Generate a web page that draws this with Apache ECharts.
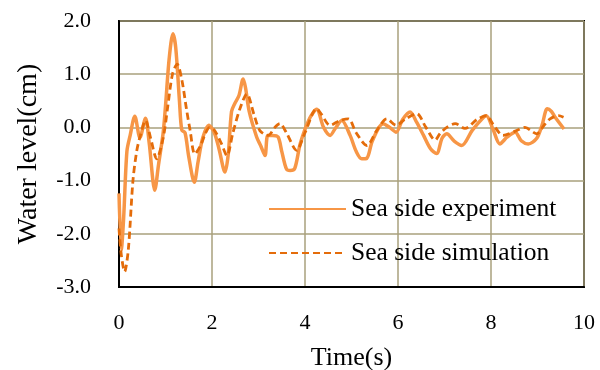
<!DOCTYPE html>
<html>
<head>
<meta charset="utf-8">
<script src="https://cdn.jsdelivr.net/npm/echarts@6/dist/echarts.min.js"></script>
<style>html,body{margin:0;padding:0;background:#fff}#c{width:600px;height:370px}</style>
</head>
<body>
<div id="c"></div>
<script>
var expTime  = [0, 0.05, 0.1, 0.17, 0.24, 0.34, 0.45, 0.57, 0.65, 0.77, 0.85, 0.95, 1.0, 1.08, 1.16, 1.22, 1.3, 1.35, 1.42, 1.5, 1.62, 1.7, 1.8, 1.93, 2.05, 2.15, 2.28, 2.35, 2.42, 2.49, 2.58, 2.67, 2.72, 2.8, 2.96, 3.05, 3.14, 3.2, 3.3, 3.42, 3.5, 3.6, 3.68, 3.78, 3.9, 4.1, 4.25, 4.4, 4.54, 4.65, 4.79, 4.97, 5.1, 5.22, 5.33, 5.45, 5.68, 5.82, 5.96, 6.1, 6.26, 6.4, 6.55, 6.7, 6.83, 6.95, 7.05, 7.2, 7.37, 7.6, 7.84, 7.9, 8.05, 8.19, 8.35, 8.52, 8.65, 8.8, 8.98, 9.1, 9.21, 9.3, 9.38, 9.57];
var expLevel = [-1.24, -2.3, -1.7, -0.45, -0.15, 0.21, -0.19, 0.17, -0.3, -1.18, -0.7, -0.1, 0.4, 1.3, 1.76, 1.5, 0.5, -0.05, -0.1, -0.55, -1.03, -0.65, -0.2, 0.04, -0.1, -0.4, -0.84, -0.5, 0.3, 0.45, 0.6, 0.91, 0.75, 0.3, -0.18, -0.35, -0.53, -0.15, -0.15, -0.18, -0.45, -0.78, -0.81, -0.77, -0.3, 0.17, 0.34, 0.0, -0.15, -0.02, 0.13, -0.15, -0.45, -0.59, -0.58, -0.25, 0.07, 0.0, -0.09, 0.15, 0.29, 0.1, -0.15, -0.4, -0.49, -0.2, -0.12, -0.25, -0.34, -0.05, 0.19, 0.22, -0.05, -0.31, -0.18, -0.09, -0.25, -0.31, -0.21, 0.05, 0.35, 0.3, 0.19, -0.03];
var simTime  = [0, 0.05, 0.12, 0.2, 0.3, 0.38, 0.46, 0.57, 0.68, 0.81, 0.95, 1.05, 1.15, 1.25, 1.35, 1.45, 1.53, 1.63, 1.75, 1.86, 1.95, 2.05, 2.2, 2.32, 2.45, 2.6, 2.75, 2.9, 3.03, 3.21, 3.35, 3.46, 3.6, 3.82, 4.0, 4.25, 4.35, 4.54, 4.75, 4.93, 5.1, 5.33, 5.55, 5.76, 5.96, 6.15, 6.4, 6.6, 6.8, 6.9, 7.05, 7.23, 7.44, 7.7, 7.9, 8.05, 8.26, 8.55, 8.73, 8.98, 9.15, 9.27, 9.45, 9.56];
var simLevel = [-1.9, -2.4, -2.71, -2.3, -1.0, -0.45, -0.15, 0.13, -0.2, -0.59, -0.2, 0.4, 1.0, 1.19, 0.9, 0.35, -0.06, -0.5, -0.35, -0.11, 0.0, -0.05, -0.3, -0.53, -0.1, 0.35, 0.63, 0.25, -0.06, -0.15, 0.0, 0.07, -0.1, -0.43, -0.1, 0.35, 0.25, 0.04, 0.13, 0.16, -0.1, -0.34, -0.05, 0.16, 0.04, 0.15, 0.26, 0.0, -0.24, -0.12, 0.0, 0.07, -0.02, 0.15, 0.22, 0.05, -0.15, -0.06, 0.0, -0.12, 0.05, 0.16, 0.22, 0.19];
var seriesNames = ['Sea side experiment', 'Sea side simulation'];
var xTitle = 'Time(s)';
var yTitle = 'Water level(cm)';

function pairs(t, v) { return t.map(function (x, i) { return [x, v[i]]; }); }

var font = 'Liberation Serif, Times New Roman, serif';
var gridColor = '#a9a17c';
var chart = echarts.init(document.getElementById('c'), null, { renderer: 'canvas' });
chart.setOption({
  animation: false,
  backgroundColor: '#fff',
  grid: { left: 119, right: 16, top: 21, bottom: 83, show: true, borderColor: '#000', borderWidth: 2, backgroundColor: 'transparent', outerBoundsMode: 'none', containLabel: false },
  legend: {
    orient: 'vertical', left: 268, top: 196, itemWidth: 77, itemHeight: 20, itemGap: 18, padding: 0,
    itemStyle: { opacity: 0 },
    textStyle: { fontFamily: font, fontSize: 25.5, color: '#000' },
    data: seriesNames
  },
  xAxis: {
    type: 'value', min: 0, max: 10, interval: 2,
    name: xTitle, nameLocation: 'middle', nameGap: 58,
    nameTextStyle: { fontFamily: font, fontSize: 26, color: '#000' },
    axisLine: { show: true, onZero: false, lineStyle: { color: '#000', width: 2 } },
    axisTick: { show: false },
    axisLabel: { fontFamily: font, fontSize: 22, color: '#000', margin: 25 },
    splitLine: { show: true, lineStyle: { color: gridColor, width: 1.5 } }
  },
  yAxis: {
    type: 'value', min: -3, max: 2, interval: 1,
    name: yTitle, nameLocation: 'middle', nameGap: 76,
    nameTextStyle: { fontFamily: font, fontSize: 28, color: '#000' },
    axisLine: { show: true, lineStyle: { color: '#000', width: 2 } },
    axisTick: { show: false },
    axisLabel: { fontFamily: font, fontSize: 22, color: '#000', margin: 28, formatter: function (v) { return v.toFixed(1); } },
    splitLine: { show: true, lineStyle: { color: gridColor, width: 1.5 } }
  },
  series: [
    { name: seriesNames[0], type: 'line', data: pairs(expTime, expLevel), symbol: 'none', smooth: 0.3,
      lineStyle: { color: '#f79646', width: 3.5 }, itemStyle: { color: '#f79646' }, z: 3 },
    { name: seriesNames[1], type: 'line', data: pairs(simTime, simLevel), symbol: 'none', smooth: 0.3,
      lineStyle: { color: '#e46c0a', width: 2.8, type: [7, 4] }, itemStyle: { color: '#e46c0a' }, z: 4 }
  ]
});
</script>
</body>
</html>
